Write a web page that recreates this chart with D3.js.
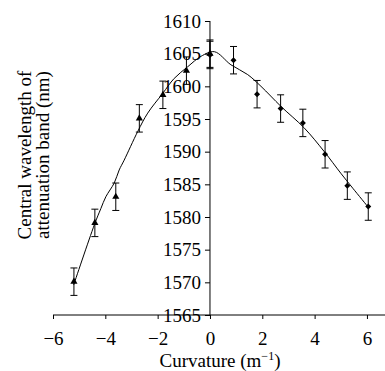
<!DOCTYPE html>
<html><head><meta charset="utf-8">
<script src="https://cdn.jsdelivr.net/npm/d3@7"></script>
</head><body style="margin:0">
<svg id="c" width="385" height="371"></svg>
<script>
// Data
const triX = [-5.2, -4.4, -3.6, -2.7, -1.8, -0.9, 0];
const triY = [1570.1, 1579.1, 1583.1, 1595.1, 1598.7, 1602.4, 1605.0];
const diaX = [0, 0.9, 1.8, 2.7, 3.55, 4.4, 5.25, 6.05];
const diaY = [1604.8, 1604.0, 1598.8, 1596.6, 1594.4, 1589.6, 1584.8, 1581.6];
const errVal = 2.1;
const fitX = [-5.21, -4.42, -4.17, -3.98, -3.66, -3.47, -3.28, -2.76, -2.38, -1.81, -1.37, -0.85, -0.34, 0.17, 0.80, 1.44, 1.95, 2.72, 3.61, 4.37, 5.0, 5.46, 6.03];
const fitY = [1569.6, 1578.8, 1581.3, 1583.1, 1585.2, 1587.2, 1588.7, 1593.1, 1595.9, 1598.9, 1601.2, 1603.0, 1604.6, 1605.3, 1603.3, 1601.8, 1600.0, 1596.9, 1593.6, 1590.0, 1586.7, 1584.4, 1581.6];
const xTicks = [-6, -4, -2, 0, 2, 4, 6];
const yTicks = [1565, 1570, 1575, 1580, 1585, 1590, 1595, 1600, 1605, 1610];

const FONT = "Tinos";
const FS = "19px";
const svg = d3.select("#c");
const x = d3.scaleLinear().domain([-6, 6.69]).range([53, 385]);
const y = d3.scaleLinear().domain([1565, 1610]).range([315, 21]);

// axes
const xa = svg.append("g").attr("transform", `translate(0,${y(1565)})`)
  .call(d3.axisBottom(x).tickValues(xTicks).tickSize(4).tickPadding(13)
    .tickFormat(d => d < 0 ? "\u2212" + Math.abs(d) : String(d)));
const ya = svg.append("g").attr("transform", `translate(${x(0)},0)`)
  .call(d3.axisLeft(y).tickValues(yTicks).tickSize(5).tickPadding(4).tickFormat(d3.format("d")));
[xa, ya].forEach(g => {
  g.attr("font-family", FONT).attr("font-size", 19);
  g.select(".domain").attr("stroke", "#000").attr("stroke-width", 1);
  g.selectAll(".tick line").attr("stroke", "#000");
  g.selectAll("text").attr("font-family", FONT).style("font-family", FONT).style("font-size", FS).attr("fill", "#000");
});
xa.select(".domain").attr("d", `M${x(-6)},0H385`);
ya.select(".domain").attr("d", `M0,${y(1565)}V${y(1610)}`);

// fitted curve
svg.append("path")
  .datum(fitX.map((v, i) => [v, fitY[i]]))
  .attr("fill", "none").attr("stroke", "#000").attr("stroke-width", 1)
  .attr("d", d3.line().x(d => x(d[0])).y(d => y(d[1])).curve(d3.curveCatmullRom));

// error bars
function errBars(xs, ys) {
  const g = svg.append("g").attr("stroke", "#000").attr("stroke-width", 1);
  xs.forEach((xv, i) => {
    const cx = x(xv), y1 = y(ys[i] + errVal), y2 = y(ys[i] - errVal);
    g.append("line").attr("x1", cx).attr("x2", cx).attr("y1", y1).attr("y2", y2);
    g.append("line").attr("x1", cx - 3.5).attr("x2", cx + 3.5).attr("y1", y1).attr("y2", y1);
    g.append("line").attr("x1", cx - 3.5).attr("x2", cx + 3.5).attr("y1", y2).attr("y2", y2);
  });
}
errBars(triX, triY);
errBars(diaX, diaY);

// markers
svg.append("g").selectAll("path").data(triX).join("path")
  .attr("transform", (d, i) => `translate(${x(d)},${y(triY[i])})`)
  .attr("d", d3.symbol(d3.symbolTriangle, 22)).attr("fill", "#000");
svg.append("g").selectAll("path").data(diaX).join("path")
  .attr("transform", (d, i) => `translate(${x(d)},${y(diaY[i])}) rotate(45)`)
  .attr("d", d3.symbol(d3.symbolSquare, 18)).attr("fill", "#000");

// axis titles
const xt = svg.append("text").attr("x", 220).attr("y", 367).attr("text-anchor", "middle")
  .attr("font-family", FONT).style("font-family", FONT).style("font-size", FS).attr("fill", "#000");
xt.append("tspan").text("Curvature (m");
xt.append("tspan").text("\u22121").attr("dy", -7).style("font-size", "12px");
xt.append("tspan").text(")").attr("dy", 7);

const yt = svg.append("text").attr("transform", "translate(31,155) rotate(-90)")
  .attr("text-anchor", "middle").attr("font-family", FONT).style("font-family", FONT).style("font-size", FS).attr("fill", "#000");
yt.append("tspan").attr("x", 0).attr("y", 0).text("Central wavelength of");
yt.append("tspan").attr("x", 0).attr("y", 18).text("attenuation band (nm)");
</script>
</body></html>
